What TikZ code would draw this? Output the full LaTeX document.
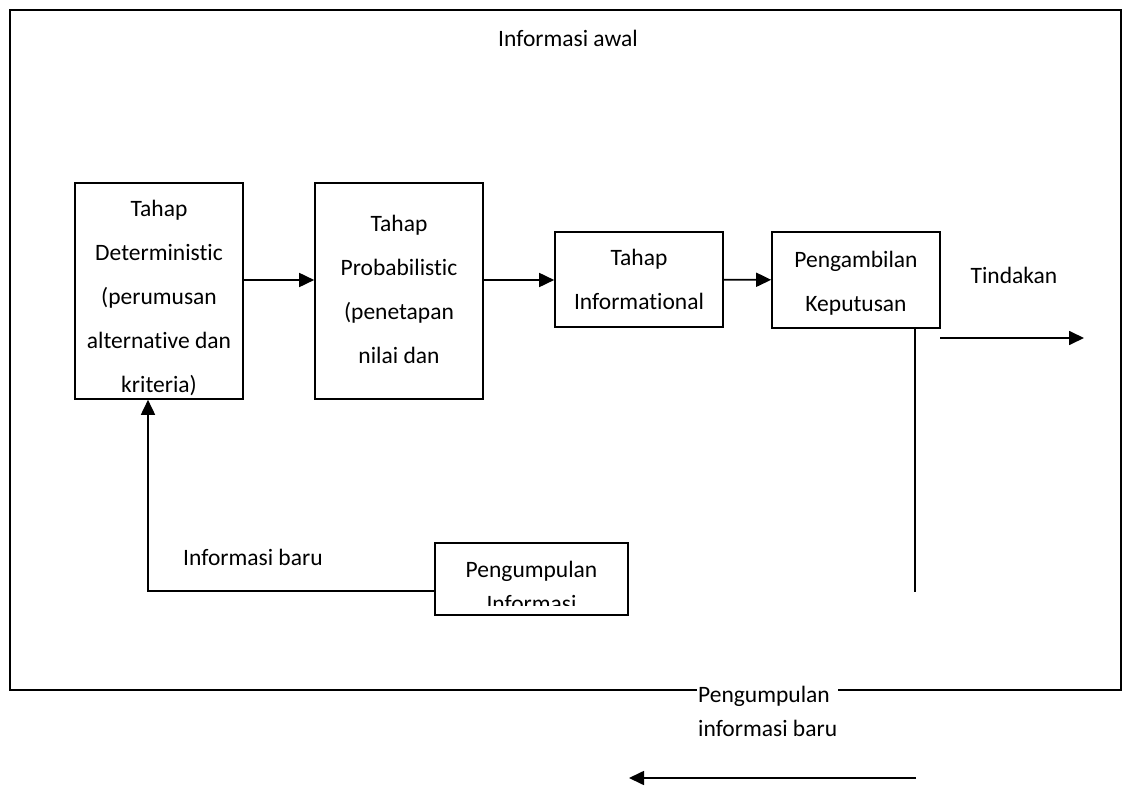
\documentclass[tikz,border=0pt]{standalone}
\usepackage{fontspec}
\setmainfont{Carlito}[Ligatures={NoCommon}]
\usetikzlibrary{arrows.meta}
\tikzset{
  box/.style={draw, line width=1.6pt, inner sep=0pt, fill=none},
  txt/.style={inner sep=0pt, align=center, font=\fontsize{23.5}{44}\selectfont},
  txtc/.style={inner sep=0pt, align=left, font=\fontsize{23.5}{34}\selectfont},
  link/.style={line width=1.7pt},
  arr/.style={line width=1.7pt, -{Triangle[length=15pt,width=14pt]}},
  frame/.style={line width=2.2pt}
}
\begin{document}
\begin{tikzpicture}[x=1pt,y=-1pt]
\useasboundingbox (0,0) rectangle (1130,786);

% outer frame with a gap in its bottom edge for the label
\coordinate (fa) at (697,690);
\coordinate (fb) at (838,690);
\draw[frame] (fa) -- (10,690) -- (10,10) -- (1121,10) -- (1121,690) -- (fb);
\node[txt, anchor=base] (awal) at (568,47) {Informasi awal};

% stage boxes
\node[box, minimum width=168pt, minimum height=216pt] (det)  at (159,291) {};
\node[box, minimum width=168pt, minimum height=216pt] (prob) at (399,291) {};
\node[box, minimum width=168pt, minimum height=95pt]  (info) at (639,279.5) {};
\node[box, minimum width=168pt, minimum height=96pt]  (kep)  at (856,280) {};
\node[box, minimum width=193pt, minimum height=72pt]  (kump) at (531.5,579) {};

\node[txt, anchor=north] (detT)  at (159,200) {Tahap\\Deterministic\\(perumusan\\alternative dan\\kriteria)};
\node[txt, anchor=north] (probT) at (399,215) {Tahap\\Probabilistic\\(penetapan\\nilai dan};
\node[txt, anchor=north] (infoT) at (639,249) {Tahap\\Informational};
\node[txt, anchor=north] (kepT)  at (856,251) {Pengambilan\\Keputusan};
\begin{scope}
  \clip (435,543) rectangle (628,605);
  \node[txtc, align=center, anchor=north] (kumpT) at (531.5,561) {Pengumpulan\\Informasi};
\end{scope}

% forward flow
\coordinate (row) at (0,280);
\draw[arr] (det.east |- row) -- (prob.west |- row);
\draw[arr] (prob.east |- row) -- (info.west |- row);
\draw[arr] (info) -- (kep);

% action output
\coordinate (actA) at (940,338);
\coordinate (actB) at (1084,338);
\draw[arr] (actA) -- (actB);
\node[txt, anchor=base] (tind) at (1014,284) {Tindakan};

% drop line below the decision box
\coordinate (drop) at (915,592);
\draw[link] (kep.south -| drop) -- (drop);

% feedback of new information
\coordinate (fbk) at (148,591);
\draw[arr] (kump.west |- fbk) -- (fbk) -- (det.south -| fbk);
\node[txt, anchor=base west] (baru) at (183,565) {Informasi baru};

% collecting new information
\node[txtc, anchor=north west] (peng) at (698,686) {Pengumpulan\\informasi baru};
\coordinate (botA) at (916,778);
\coordinate (botB) at (629,778);
\draw[arr] (botA) -- (botB);
\end{tikzpicture}
\end{document}
